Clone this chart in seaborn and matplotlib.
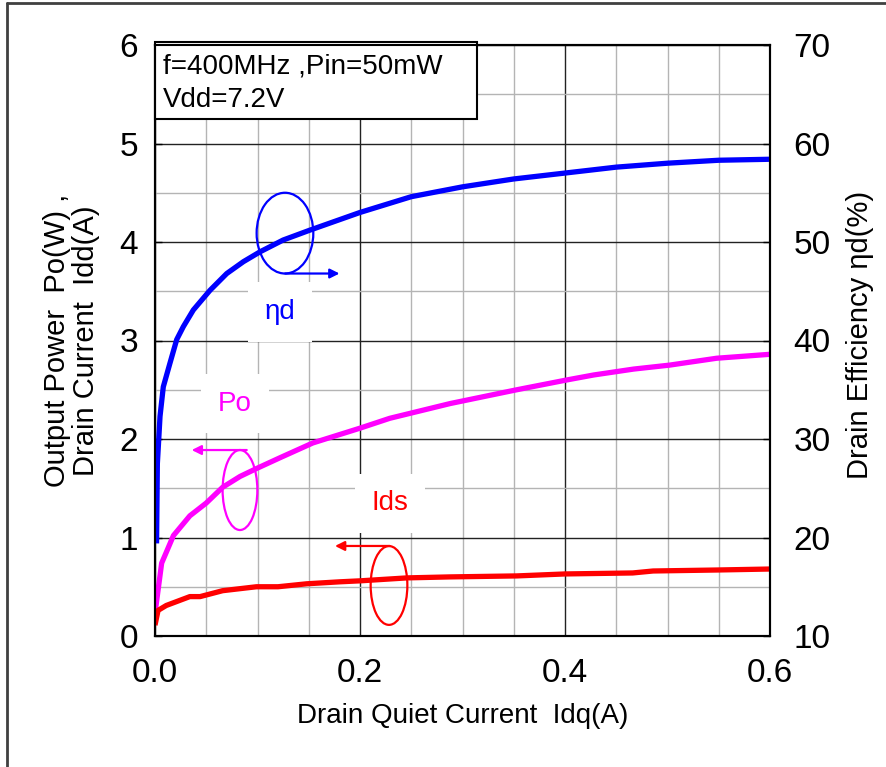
import matplotlib
matplotlib.use("Agg")
import matplotlib.pyplot as plt
import seaborn as sns
import numpy as np
from matplotlib.patches import Ellipse, Rectangle
from matplotlib.lines import Line2D
from matplotlib.ticker import MultipleLocator

# ---- data ----
idq_eta = [0.0015, 0.0023, 0.0049, 0.0081, 0.0146, 0.0212, 0.0276, 0.0374, 0.0537,
           0.070, 0.0862, 0.1024, 0.125, 0.151, 0.20, 0.25, 0.30, 0.35, 0.40,
           0.45, 0.50, 0.55, 0.60]
eta = [19.4, 27.5, 32.3, 35.3, 37.7, 40.1, 41.4, 43.1, 45.1,
       46.8, 48.0, 49.0, 50.2, 51.2, 53.0, 54.6, 55.6, 56.4, 57.0,
       57.6, 58.0, 58.3, 58.4]

idq_po = [0.0, 0.0065, 0.018, 0.034, 0.05, 0.066, 0.083, 0.099, 0.122, 0.154,
          0.20, 0.229, 0.288, 0.353, 0.402, 0.428, 0.467, 0.502, 0.548, 0.60]
po = [0.23, 0.74, 1.02, 1.22, 1.35, 1.51, 1.62, 1.70, 1.81, 1.96,
      2.11, 2.21, 2.36, 2.50, 2.60, 2.65, 2.71, 2.75, 2.82, 2.86]

idq_ids = [0.0, 0.003, 0.011, 0.034, 0.044, 0.066, 0.099, 0.12, 0.148, 0.18,
           0.20, 0.246, 0.288, 0.353, 0.40, 0.466, 0.486, 0.548, 0.60]
ids = [0.11, 0.26, 0.31, 0.40, 0.40, 0.46, 0.50, 0.50, 0.53, 0.55,
       0.56, 0.59, 0.60, 0.61, 0.63, 0.64, 0.66, 0.67, 0.68]

x_ticks = [0.0, 0.2, 0.4, 0.6]
x_tick_labels = ["0.0", "0.2", "0.4", "0.6"]
left_ticks = [0, 1, 2, 3, 4, 5, 6]
right_ticks = [10, 20, 30, 40, 50, 60, 70]

BLUE, MAG, RED = "#0000FF", "#FF00FF", "#FF0000"

sns.set_style("white")
plt.rcParams["font.family"] = ["Liberation Sans", "DejaVu Sans"]
plt.rcParams["text.color"] = "black"
plt.rcParams["axes.labelcolor"] = "black"
plt.rcParams["xtick.color"] = "black"
plt.rcParams["ytick.color"] = "black"

fig = plt.figure(figsize=(8.86, 7.67), dpi=100)
ax = fig.add_axes([155 / 886, 131 / 767, 615 / 886, 591 / 767])
ax2 = ax.twinx()

ax.set_xlim(0, 0.6)
ax.set_ylim(0, 6)
ax2.set_ylim(10, 70)

# grid
ax.xaxis.set_major_locator(MultipleLocator(0.2))
ax.xaxis.set_minor_locator(MultipleLocator(0.05))
ax.yaxis.set_major_locator(MultipleLocator(1))
ax.yaxis.set_minor_locator(MultipleLocator(0.5))
ax.grid(which="minor", color="#b4b4b4", lw=1.0)
ax.grid(which="major", color="#222222", lw=1.0)
ax.set_axisbelow(True)

sns.lineplot(x=idq_po, y=po, ax=ax, color=MAG, lw=3.8, solid_capstyle="butt")
sns.lineplot(x=idq_ids, y=ids, ax=ax, color=RED, lw=3.8, solid_capstyle="butt")
sns.lineplot(x=idq_eta, y=eta, ax=ax2, color=BLUE, lw=3.8, solid_capstyle="butt")

ax.set_xticks(x_ticks)
ax.set_xticklabels(x_tick_labels)
ax.set_yticks(left_ticks)
ax2.set_yticks(right_ticks)

for a in (ax, ax2):
    for s in a.spines.values():
        s.set_color("black")
        s.set_linewidth(1.5)
ax.tick_params(axis="both", which="major", direction="in", length=5, width=1,
               labelsize=24, colors="black")
ax.tick_params(axis="x", pad=16)
ax.tick_params(axis="y", pad=12)
ax.tick_params(which="minor", length=0)
ax2.tick_params(axis="y", direction="in", length=5, width=1, labelsize=24, pad=17,
                colors="black")

ax.set_xlabel("Drain Quiet Current  Idq(A)", fontsize=20, labelpad=10, color="black")
ax.set_ylabel("Output Power  Po(W) ,\nDrain Current  Idd(A)", fontsize=21,
              linespacing=1.05, labelpad=14, color="black")
ax2.set_ylabel("Drain Efficiency ηd(%)", fontsize=21, labelpad=11, color="black")
ax2.yaxis.set_label_coords(1.123, 0.51)

# condition box
ax.add_patch(Rectangle((0, 0.8748), 0.5236, 0.131, transform=ax.transAxes,
                       facecolor="white", edgecolor="black", lw=1.5,
                       clip_on=False, zorder=5))
ax.text(0.013, 0.985, "f=400MHz ,Pin=50mW\nVdd=7.2V", transform=ax.transAxes,
        fontsize=20, va="top", ha="left", linespacing=1.35, zorder=6,
        color="black")

# annotations: ellipses, arrows, labels (left-axis data coords)
def mark(cx, cy, w, h, color, ax_from, ax_to, ay, label, lx, ly):
    ax.add_patch(Ellipse((cx, cy), w, h, facecolor="none", edgecolor=color,
                         lw=1.6, zorder=4))
    ax.annotate("", xy=(ax_to, ay), xytext=(ax_from, ay),
                arrowprops=dict(arrowstyle="-|>", color=color, lw=1.6,
                                mutation_scale=14, shrinkA=0, shrinkB=0),
                zorder=4)
    ax.text(lx, ly, label, color=color, fontsize=20, ha="center", va="center",
            zorder=3,
            bbox=dict(boxstyle="square,pad=0.6", facecolor="white",
                      edgecolor="none"))

mark(0.1268, 4.09, 0.0553, 0.82, BLUE, 0.127, 0.180, 3.68, "ηd", 0.122, 3.29)
mark(0.0829, 1.482, 0.0339, 0.812, MAG, 0.0895, 0.0358, 1.888, "Po", 0.078, 2.36)
mark(0.2283, 0.513, 0.0358, 0.80, RED, 0.229, 0.1756, 0.914, "Ids", 0.229, 1.347)

# figure border (left and top)
fig.add_artist(Line2D([7 / 886, 7 / 886], [0, 1 - 3 / 767], color="#404040", lw=2))
fig.add_artist(Line2D([7 / 886, 1], [1 - 3 / 767, 1 - 3 / 767], color="#404040", lw=2))

fig.savefig("out.png", dpi=100, facecolor="white")
